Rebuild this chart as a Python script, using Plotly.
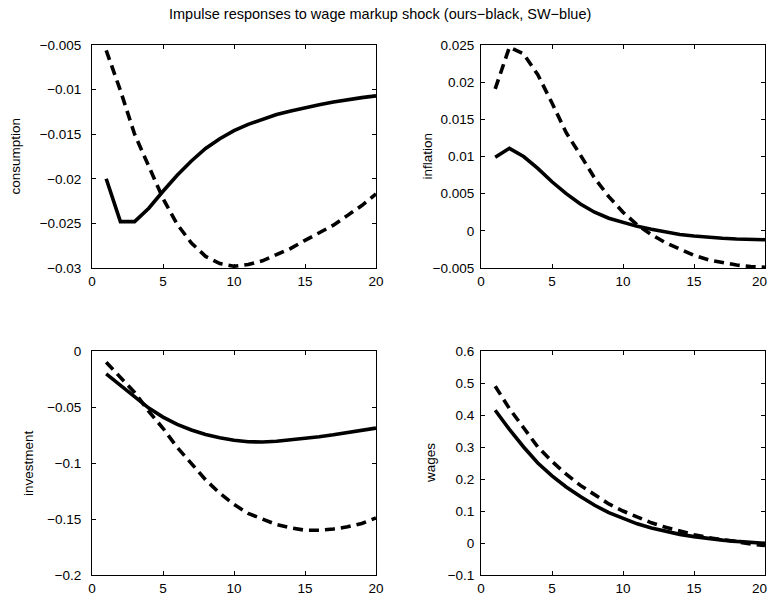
import plotly.graph_objects as go

periods = list(range(1, 21))

cons_ours = [-0.0200, -0.0248, -0.0248, -0.0233, -0.0214, -0.0196, -0.0180, -0.0166, -0.0155, -0.0146,
             -0.0139, -0.0133, -0.0128, -0.0124, -0.0120, -0.0117, -0.0114, -0.0111, -0.0109, -0.0107]
cons_sw = [-0.0056, -0.0101, -0.0150, -0.0187, -0.0222, -0.0251, -0.0272, -0.0287, -0.0295, -0.0298,
           -0.0296, -0.0292, -0.0285, -0.0278, -0.0269, -0.0261, -0.0252, -0.0241, -0.0230, -0.0217]

infl_ours = [0.0099, 0.0111, 0.0100, 0.0084, 0.0066, 0.0050, 0.0036, 0.0025, 0.0017, 0.0011,
             0.0006, 0.0002, -0.0002, -0.0005, -0.0007, -0.0009, -0.0010, -0.0011, -0.0012, -0.0012]
infl_sw = [0.0191, 0.0247, 0.0238, 0.0210, 0.0172, 0.0132, 0.0102, 0.0071, 0.0046, 0.0025,
           0.0008, -0.0005, -0.0016, -0.0025, -0.0033, -0.0039, -0.0043, -0.0046, -0.0048, -0.0049]

inv_ours = [-0.0205, -0.0310, -0.0415, -0.0510, -0.0590, -0.0655, -0.0705, -0.0745, -0.0775, -0.0797,
            -0.0810, -0.0813, -0.0806, -0.0795, -0.0781, -0.0765, -0.0748, -0.0729, -0.0709, -0.0688]
inv_sw = [-0.010, -0.023, -0.037, -0.054, -0.069, -0.086, -0.101, -0.115, -0.127, -0.137,
          -0.145, -0.150, -0.155, -0.158, -0.160, -0.160, -0.159, -0.157, -0.154, -0.149]

wage_ours = [0.415, 0.355, 0.300, 0.250, 0.210, 0.175, 0.145, 0.118, 0.095, 0.076,
             0.060, 0.047, 0.036, 0.027, 0.020, 0.014, 0.009, 0.005, 0.002, -0.001]
wage_sw = [0.490, 0.420, 0.360, 0.300, 0.255, 0.215, 0.180, 0.150, 0.122, 0.100,
           0.080, 0.063, 0.049, 0.037, 0.026, 0.017, 0.010, 0.003, -0.003, -0.008]

panel_names = ["consumption", "inflation", "investment", "wages"]
x_ticks = [0, 5, 10, 15, 20]
x_ticktext = ["0", "5", "10", "15", "20"]
y_ticks = [
    [-0.03, -0.025, -0.02, -0.015, -0.01, -0.005],
    [-0.005, 0, 0.005, 0.01, 0.015, 0.02, 0.025],
    [-0.2, -0.15, -0.1, -0.05, 0],
    [-0.1, 0, 0.1, 0.2, 0.3, 0.4, 0.5, 0.6],
]
y_ticktext = [
    ["\u22120.03", "\u22120.025", "\u22120.02", "\u22120.015", "\u22120.01", "\u22120.005"],
    ["\u22120.005", "0", "0.005", "0.01", "0.015", "0.02", "0.025"],
    ["\u22120.2", "\u22120.15", "\u22120.1", "\u22120.05", "0"],
    ["\u22120.1", "0", "0.1", "0.2", "0.3", "0.4", "0.5", "0.6"],
]
title_text = "Impulse responses to wage markup shock (ours\u2212black, SW\u2212blue)"

series = [(cons_ours, cons_sw), (infl_ours, infl_sw), (inv_ours, inv_sw), (wage_ours, wage_sw)]

W, H = 770, 599
FONT = "Liberation Sans, Arial, Helvetica, sans-serif"
FS = 13.5

# pixel boxes (left, right, top, bottom)
boxes = [(92, 376, 45, 268), (481, 765, 45, 268), (92, 376, 351, 575), (481, 765, 351, 575)]
ytitle_x = [15, 427, 28, 430]
ylabel_standoff = [7, 3, 7, 3]

fig = go.Figure()
layout = dict(
    width=W, height=H, autosize=False,
    margin=dict(l=0, r=0, t=0, b=0, pad=0, autoexpand=False),
    paper_bgcolor="white", plot_bgcolor="white",
    showlegend=False,
    font=dict(family=FONT, size=FS, color="black"),
    annotations=[],
)

for i, (ours, sw) in enumerate(series):
    xa = "x" if i == 0 else f"x{i+1}"
    ya = "y" if i == 0 else f"y{i+1}"
    fig.add_trace(go.Scatter(x=periods, y=ours, mode="lines", xaxis=xa, yaxis=ya,
                             line=dict(color="black", width=3.6), cliponaxis=True))
    fig.add_trace(go.Scatter(x=periods, y=sw, mode="lines", xaxis=xa, yaxis=ya,
                             line=dict(color="black", width=3.6, dash="10px,6px"), cliponaxis=True))
    l, r, t, b = boxes[i]
    axcommon = dict(showline=True, linecolor="black", linewidth=1, mirror="ticks",
                    ticks="inside", ticklen=4, tickcolor="black", tickwidth=1, automargin=False,
                    showgrid=False, zeroline=False, tickfont=dict(family=FONT, size=FS, color="black"))
    layout["xaxis" if i == 0 else f"xaxis{i+1}"] = dict(
        domain=[l / W, r / W], anchor=ya, range=[0, 20],
        tickmode="array", tickvals=x_ticks, ticktext=x_ticktext, ticklabelstandoff=1, **axcommon)
    yt = y_ticks[i]
    layout["yaxis" if i == 0 else f"yaxis{i+1}"] = dict(
        domain=[1 - b / H, 1 - t / H], anchor=xa, range=[yt[0], yt[-1]],
        tickmode="array", tickvals=yt, ticktext=y_ticktext[i],
        ticklabelstandoff=ylabel_standoff[i], **axcommon)
    layout["annotations"].append(dict(
        text=panel_names[i], xref="paper", yref="paper",
        x=ytitle_x[i] / W, y=1 - ((t + b) / 2) / H, textangle=-90,
        showarrow=False, xanchor="center", yanchor="middle",
        font=dict(family=FONT, size=FS, color="black")))
    if i in (1, 3):
        # last x tick label of the right-hand panels sits at the page edge; keep it fully visible
        layout["annotations"].append(dict(
            text=x_ticktext[-1], xref=xa, x=x_ticks[-1], yref="paper", y=1 - (b + 13) / H,
            showarrow=False, xanchor="right", xshift=4, yanchor="middle",
            font=dict(family=FONT, size=FS, color="black")))

layout["annotations"].append(dict(
    text=title_text, xref="paper", yref="paper", x=380 / W, y=1 - 14 / H,
    showarrow=False, xanchor="center", yanchor="middle",
    font=dict(family=FONT, size=14.5, color="black")))

fig.update_layout(**layout)
fig.write_html("out.html")
